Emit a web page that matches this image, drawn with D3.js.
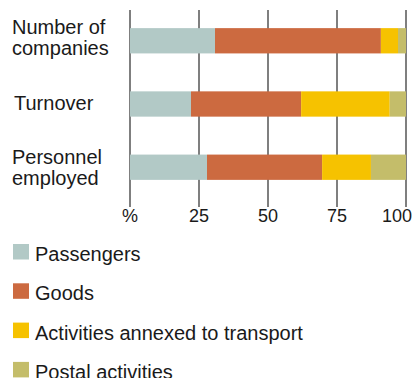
<!DOCTYPE html>
<html>
<head>
<meta charset="utf-8">
<script src="https://cdn.jsdelivr.net/npm/d3@7"></script>
<style>
  body { margin: 0; background: #fff; }
  svg { display: block; font-family: "Liberation Sans", Arial, sans-serif; }
  .lbl { font-size: 20px; fill: #1a1a1a; }
  .tick-lbl { font-size: 18px; fill: #1a1a1a; }
</style>
</head>
<body>
<div id="chart"></div>
<script>
// categories (rows) and their labels, split in lines
let rows = ["Number of companies", "Turnover", "Personnel employed"];
let rowLines = [["Number of", "companies"], ["Turnover"], ["Personnel", "employed"]];
let series = ["Passengers", "Goods", "Activities annexed to transport", "Postal activities"];
let colors = ["#b2c9c6", "#cc6a40", "#f6c200", "#c4bd6a"];

// share in %, one array per series, in row order
let passengers = [30.8, 22.1, 27.9];
let goods = [60.1, 39.9, 41.7];
let annexed = [6.2, 32.1, 17.7];
let postal = [2.9, 5.9, 12.7];

let ticks = [0, 25, 50, 75, 100];
let tickLabels = ["%", "25", "50", "75", "100"];

let width = 414;
let height = 378;

let table = rows.map((r, i) => ({
  row: r,
  Passengers: passengers[i],
  Goods: goods[i],
  "Activities annexed to transport": annexed[i],
  "Postal activities": postal[i]
}));

let stack = d3.stack().keys(series)(table);

let svg = d3.select("#chart").append("svg")
  .attr("width", width)
  .attr("height", height);

let scaleX = d3.scaleLinear().domain([0, 100]).range([130, 406]);
let scaleY = d3.scaleBand().domain(rows).range([6, 202]).paddingInner(0.6).paddingOuter(0.35);
let scaleC = d3.scaleOrdinal().domain(series).range(colors);

// grid lines (drawn behind bars)
svg.append("g")
  .selectAll("line")
  .data(ticks)
  .join("line")
  .attr("x1", d => scaleX(d))
  .attr("x2", d => scaleX(d))
  .attr("y1", 10)
  .attr("y2", 207)
  .attr("stroke", "#555")
  .attr("stroke-width", 1.5);

// bars
svg.append("g")
  .selectAll("g")
  .data(stack)
  .join("g")
  .attr("fill", d => scaleC(d.key))
  .selectAll("rect")
  .data(d => d)
  .join("rect")
  .attr("x", d => scaleX(d[0]))
  .attr("width", d => scaleX(d[1]) - scaleX(d[0]))
  .attr("y", d => scaleY(d.data.row))
  .attr("height", scaleY.bandwidth());

// row labels, first baseline offset from bar middle differs per row
const firstOffset = [-6.7, 6, -3.3];
const lh = 21.2;
svg.append("g")
  .selectAll("text")
  .data(rows)
  .join("text")
  .attr("class", "lbl")
  .attr("y", d => scaleY(d) + scaleY.bandwidth() / 2)
  .each((d, i, n) => {
    const t = d3.select(n[i]);
    rowLines[i].forEach((s, j) => {
      t.append("tspan")
        .attr("x", i === 1 ? 14 : 12)
        .attr("dy", j === 0 ? firstOffset[i] : lh)
        .text(s);
    });
  });

// tick labels
svg.append("g")
  .selectAll("text")
  .data(ticks)
  .join("text")
  .attr("class", "tick-lbl")
  .attr("x", d => d === 100 ? 412 : scaleX(d))
  .attr("y", 222)
  .attr("text-anchor", d => d === 100 ? "end" : "middle")
  .text((d, i) => tickLabels[i]);

// legend
let legend = svg.append("g")
  .selectAll("g")
  .data(series)
  .join("g")
  .attr("transform", (d, i) => `translate(13, ${244 + i * 39.3})`);

legend.append("rect")
  .attr("width", 16)
  .attr("height", 15.5)
  .attr("fill", d => scaleC(d));

legend.append("text")
  .attr("class", "lbl")
  .attr("x", 22)
  .attr("y", 17)
  .text(d => d);
</script>
</body>
</html>
